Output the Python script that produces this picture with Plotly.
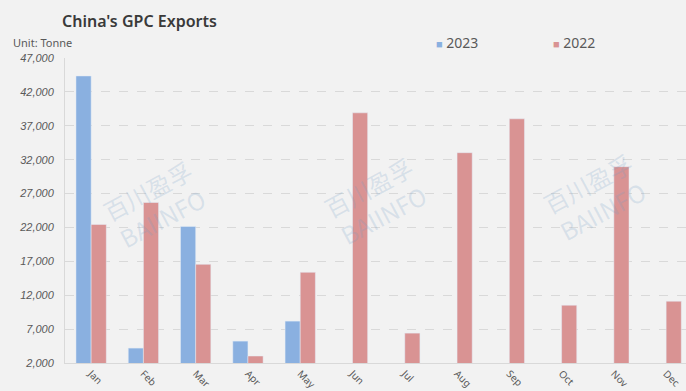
import plotly.graph_objects as go

months = ["Jan", "Feb", "Mar", "Apr", "May", "Jun", "Jul", "Aug", "Sep", "Oct", "Nov", "Dec"]
exports_2023 = [44350, 4200, 22150, 5230, 8180, None, None, None, None, None, None, None]
exports_2022 = [22440, 25680, 16560, 3030, 15380, 38910, 6410, 33030, 38030, 10530, 30970, 11120]
y_ticks = list(range(2000, 47001, 5000))
x_idx = list(range(len(months)))

BLUE = "#8AB0E0"
RED = "#D99393"
FONT = "Noto Sans"

fig = go.Figure()
fig.add_trace(go.Bar(name="2023", x=x_idx, y=exports_2023, marker_color=BLUE, showlegend=False))
fig.add_trace(go.Bar(name="2022", x=x_idx, y=exports_2022, marker_color=RED, showlegend=False))

# watermarks
wm_pos = [(0.145, 0.52), (0.50, 0.53), (0.853, 0.545)]
for x, y in wm_pos:
    fig.add_annotation(xref="paper", yref="paper", x=x, y=y, xanchor="center", yanchor="middle",
                       text="百川盈孚<br>BAIINFO",
                       showarrow=False, textangle=-28,
                       font=dict(family="Noto Sans CJK SC", size=24, color="rgba(120,160,200,0.22)"))

fig.add_annotation(xref="paper", yref="paper", x=-0.008, y=1.122, xanchor="left", yanchor="middle",
                   text="China's GPC Exports", showarrow=False,
                   font=dict(family=FONT, size=16, color="#3a3a3a", weight=600))
fig.add_annotation(xref="paper", yref="paper", x=-0.087, y=1.05, xanchor="left", yanchor="middle",
                   text="Unit: Tonne", showarrow=False,
                   font=dict(family=FONT, size=11, color="#595959"))
# legend
for x, label, col in [(0.595, "2023", BLUE), (0.783, "2022", RED)]:
    fig.add_annotation(xref="paper", yref="paper", x=x, y=1.05, xanchor="left", yanchor="middle",
                       text=f"<span style='color:{col};font-size:11px'>■</span> {label}",
                       showarrow=False, font=dict(family=FONT, size=14, color="#595959"))

fig.update_layout(
    width=686, height=391, autosize=False,
    margin=dict(l=65, r=0, t=58, b=28),
    paper_bgcolor="#F2F2F2", plot_bgcolor="#F2F2F2",
    barmode="group", bargap=0.42, bargroupgap=0,
    font=dict(family=FONT, color="#595959"),
    showlegend=False,
    xaxis=dict(range=[-0.5, 11.38], tickmode="array", tickvals=x_idx, ticktext=months,
               tickangle=45, showgrid=False,
               showline=True, linecolor="#D9D9D9", linewidth=1, ticks="",
               tickfont=dict(size=10, color="#595959")),
    yaxis=dict(range=[2000, 47000], tickvals=y_ticks, tickformat=",",
               showgrid=True, gridcolor="#D9D9D9", griddash="dash", gridwidth=1,
               showline=True, linecolor="#D9D9D9", zeroline=False, ticks="",
               ticklabelstandoff=8,
               tickfont=dict(family="Liberation Sans", size=11, color="#595959", style="italic")),
)

fig.write_html("out.html")
